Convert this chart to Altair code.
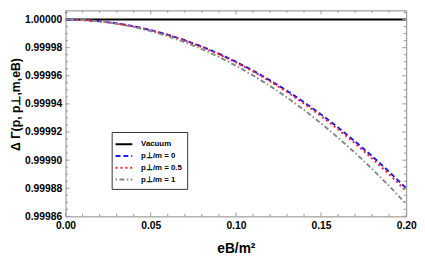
import altair as alt
import pandas as pd

# ---- data ----
eB = [0.00, 0.01, 0.02, 0.03, 0.04, 0.05, 0.06, 0.07, 0.08, 0.09, 0.10,
      0.11, 0.12, 0.13, 0.14, 0.15, 0.16, 0.17, 0.18, 0.19, 0.20]
vacuum = [1.0] * len(eB)
p_0 = [1.0, 0.9999997, 0.9999988, 0.9999973, 0.9999952, 0.9999925, 0.9999892,
       0.9999853, 0.9999808, 0.9999757, 0.99997, 0.9999637, 0.9999568, 0.9999493,
       0.9999412, 0.9999325, 0.9999232, 0.9999133, 0.9999028, 0.9998917, 0.99988]
p_05 = [1.0, 0.9999997, 0.9999988, 0.9999973, 0.9999951, 0.9999924, 0.999989,
        0.9999851, 0.9999805, 0.9999753, 0.9999695, 0.9999631, 0.9999561, 0.9999485,
        0.9999402, 0.9999314, 0.9999219, 0.9999119, 0.9999012, 0.9998899, 0.999878]
p_1 = [1.0, 0.9999997, 0.9999987, 0.999997, 0.9999948, 0.9999918, 0.9999882,
       0.9999839, 0.999979, 0.9999734, 0.9999672, 0.9999603, 0.9999528, 0.9999446,
       0.9999357, 0.9999262, 0.999916, 0.9999052, 0.9998937, 0.9998816, 0.9998688]

names = ["Vacuum", "p⊥/m = 0", "p⊥/m = 0.5", "p⊥/m = 1"]
colors = ["#000000", "#1a1aff", "#ff2020", "#888888"]
dashes = [[1, 0], [5, 3], [2, 3], [1.5, 2.5, 5, 2.5]]

x_major = [0.0, 0.05, 0.10, 0.15, 0.20]
x_minor = [0.01, 0.02, 0.03, 0.04, 0.06, 0.07, 0.08, 0.09, 0.11, 0.12, 0.13,
           0.14, 0.16, 0.17, 0.18, 0.19]
y_major = [0.99986, 0.99988, 0.99990, 0.99992, 0.99994, 0.99996, 0.99998, 1.0]
y_minor = [0.999865, 0.99987, 0.999875, 0.999885, 0.99989, 0.999895, 0.999905,
           0.99991, 0.999915, 0.999925, 0.99993, 0.999935, 0.999945, 0.99995,
           0.999955, 0.999965, 0.99997, 0.999975, 0.999985, 0.99999, 0.999995,
           1.000005]

rows = []
for name, vals in zip(names, [vacuum, p_0, p_05, p_1]):
    for xv, yv in zip(eB, vals):
        rows.append({"eB": xv, "val": yv, "series": name})
df = pd.DataFrame(rows)

W, H = 347.3, 210
xs = alt.Scale(domain=[0, 0.2], nice=False, zero=False)
ys = alt.Scale(domain=[0.99986, 1.0000065], nice=False, zero=False)
FONT = "Liberation Sans"
TICK = "#999999"

lines = alt.Chart(df).mark_line(strokeWidth=2, clip=True).encode(
    x=alt.X("eB:Q", scale=xs, axis=alt.Axis(
        values=x_major, format=".2f", ticks=False, domain=False, grid=False,
        labelFlush=False, labelOverlap=False,
        labelPadding=4, labelFontSize=10.5, labelFontWeight="bold", labelFont=FONT,
        labelColor="black", title="eB/m²", titleFontSize=14, titleFontWeight="bold",
        titleFont=FONT, titleColor="black", titleY=37, titleBaseline="alphabetic")),
    y=alt.Y("val:Q", scale=ys, axis=alt.Axis(
        values=y_major, format=".5f", ticks=False, domain=False, grid=False,
        labelFlush=False, labelOverlap=False,
        labelPadding=4, labelFontSize=10.5, labelFontWeight="bold", labelFont=FONT,
        labelColor="black", title="Δ Γ(p, p⊥,m,eB)", titleFontSize=12.5,
        titleFontWeight="bold", titleFont=FONT, titleColor="black",
        titleX=-51, titleY=95.5, titleAngle=-90, titleAlign="center",
        titleBaseline="middle")),
    color=alt.Color("series:N", scale=alt.Scale(domain=names, range=colors),
                    legend=alt.Legend(title=None)),
    strokeDash=alt.StrokeDash("series:N", scale=alt.Scale(domain=names, range=dashes),
                              legend=alt.Legend(title=None)),
    order=alt.Order("series:N"),
)

def xticks(vals, y1, y2):
    return alt.Chart(pd.DataFrame({"eB": vals})).mark_rule(color=TICK, strokeWidth=1).encode(
        x=alt.X("eB:Q", scale=xs, axis=None), y=alt.value(y1), y2=alt.value(y2))

def yticks(vals, x1, x2):
    return alt.Chart(pd.DataFrame({"val": vals})).mark_rule(color=TICK, strokeWidth=1).encode(
        y=alt.Y("val:Q", scale=ys, axis=None), x=alt.value(x1), x2=alt.value(x2))

ticks = [
    xticks(x_major, H, H - 4), xticks(x_minor, H, H - 2.5),
    xticks(x_major, 0, 4), xticks(x_minor, 0, 2.5),
    yticks(y_major, 0, 4), yticks(y_minor, 0, 2.5),
    yticks(y_major, W, W - 4), yticks(y_minor, W, W - 2.5),
]

chart = alt.layer(lines, *ticks).resolve_axis(
    x="independent", y="independent"
).properties(
    width=W, height=H,
    autosize=alt.AutoSizeParams(type="none"),
    padding={"left": 58.7, "top": 0, "right": 11, "bottom": 40},
).configure_view(
    stroke="#888888", strokeWidth=1
).configure_legend(
    orient="none", legendX=47, legendY=124,
    padding=5, strokeColor="#333333", fillColor="white",
    symbolType="M-1.35,0H1.35", symbolSize=160, symbolStrokeWidth=2,
    labelFontSize=8, labelFontWeight="bold", labelFont=FONT, labelColor="black",
    labelOffset=10, rowPadding=0,
)

chart.save("out.html", embed_options={"renderer": "svg", "actions": False})
